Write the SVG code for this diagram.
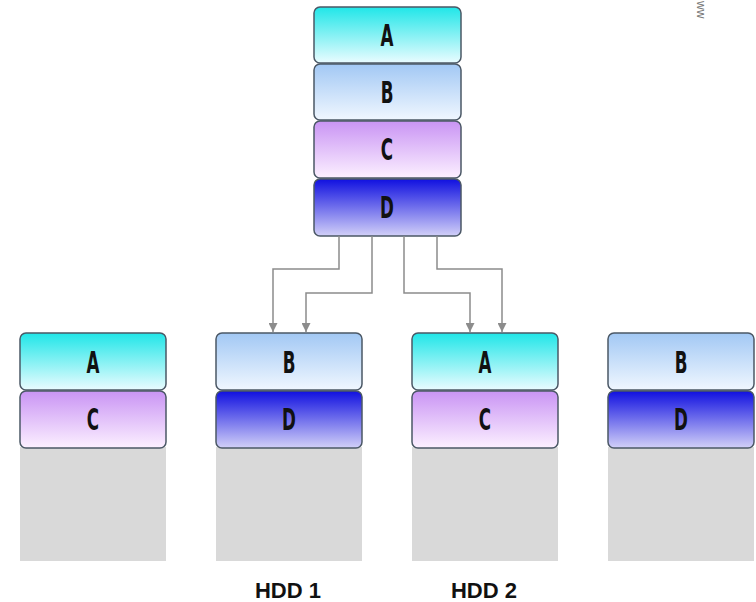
<svg xmlns="http://www.w3.org/2000/svg" width="756" height="602" viewBox="0 0 756 602">
<defs>
<linearGradient id="gA" x1="0" y1="0" x2="0" y2="1"><stop offset="0" stop-color="#20e6e8"/><stop offset="1" stop-color="#eafcff"/></linearGradient>
<linearGradient id="gB" x1="0" y1="0" x2="0" y2="1"><stop offset="0" stop-color="#a2c8f4"/><stop offset="1" stop-color="#f0f7ff"/></linearGradient>
<linearGradient id="gC" x1="0" y1="0" x2="0" y2="1"><stop offset="0" stop-color="#c994f4"/><stop offset="1" stop-color="#fcf0ff"/></linearGradient>
<linearGradient id="gD" x1="0" y1="0" x2="0" y2="1"><stop offset="0" stop-color="#1010e0"/><stop offset="1" stop-color="#d2d0f8"/></linearGradient>
<marker id="arr" viewBox="0 0 10 10" refX="10" refY="5" markerWidth="9" markerHeight="9" markerUnits="userSpaceOnUse" orient="auto">
<path d="M0,0 L10,5 L0,10 Z" fill="#8c8c8c"/>
</marker>
</defs>
<style>
.box{stroke:#4b5866;stroke-width:1.5}
.gray{fill:#d9d9d9}
.lbl{font-family:"DejaVu Sans Condensed","DejaVu Sans",sans-serif;font-weight:bold;font-size:30px;fill:#111;text-anchor:middle}
.hdd{font-family:"Liberation Sans",Arial,sans-serif;font-weight:bold;font-size:22px;fill:#111;text-anchor:middle}
.con{fill:none;stroke:#8c8c8c;stroke-width:1.5;marker-end:url(#arr)}
</style>
<rect width="756" height="602" fill="#ffffff"/>

<g id="top-stack">
<rect class="box" x="314" y="7" width="147" height="56" rx="6" fill="url(#gA)"/>
<rect class="box" x="314" y="64" width="147" height="56" rx="6" fill="url(#gB)"/>
<rect class="box" x="314" y="121" width="147" height="57" rx="6" fill="url(#gC)"/>
<rect class="box" x="314" y="179" width="147" height="57" rx="6" fill="url(#gD)"/>
<text class="lbl" transform="translate(387,46) scale(0.62,1)">A</text>
<text class="lbl" transform="translate(387,103) scale(0.62,1)">B</text>
<text class="lbl" transform="translate(387,160) scale(0.62,1)">C</text>
<text class="lbl" transform="translate(387,218) scale(0.62,1)">D</text>
</g>

<g id="connectors">
<path class="con" d="M339,236 V269 H273 V332"/>
<path class="con" d="M372,236 V293 H306 V332"/>
<path class="con" d="M404,236 V293 H470 V332"/>
<path class="con" d="M437,236 V269 H502 V332"/>
</g>

<g id="disk1">
<rect class="gray" x="20" y="447" width="146" height="114"/>
<rect class="box" x="20" y="333" width="146" height="57" rx="6" fill="url(#gA)"/>
<rect class="box" x="20" y="391" width="146" height="57" rx="6" fill="url(#gC)"/>
<text class="lbl" transform="translate(93,373) scale(0.62,1)">A</text>
<text class="lbl" transform="translate(93,430) scale(0.62,1)">C</text>
</g>

<g id="disk2">
<rect class="gray" x="216" y="447" width="146" height="114"/>
<rect class="box" x="216" y="333" width="146" height="57" rx="6" fill="url(#gB)"/>
<rect class="box" x="216" y="391" width="146" height="57" rx="6" fill="url(#gD)"/>
<text class="lbl" transform="translate(289,373) scale(0.62,1)">B</text>
<text class="lbl" transform="translate(289,430) scale(0.62,1)">D</text>
<text class="hdd" x="288" y="598">HDD 1</text>
</g>

<g id="disk3">
<rect class="gray" x="412" y="447" width="146" height="114"/>
<rect class="box" x="412" y="333" width="146" height="57" rx="6" fill="url(#gA)"/>
<rect class="box" x="412" y="391" width="146" height="57" rx="6" fill="url(#gC)"/>
<text class="lbl" transform="translate(485,373) scale(0.62,1)">A</text>
<text class="lbl" transform="translate(485,430) scale(0.62,1)">C</text>
<text class="hdd" x="484" y="598">HDD 2</text>
</g>

<g id="disk4">
<rect class="gray" x="608" y="447" width="146" height="114"/>
<rect class="box" x="608" y="333" width="146" height="57" rx="6" fill="url(#gB)"/>
<rect class="box" x="608" y="391" width="146" height="57" rx="6" fill="url(#gD)"/>
<text class="lbl" transform="translate(681,373) scale(0.62,1)">B</text>
<text class="lbl" transform="translate(681,430) scale(0.62,1)">D</text>
</g>

<text transform="translate(697,1) rotate(90)" font-family="Liberation Sans,Arial,sans-serif" font-size="12" fill="#777">ww</text>
</svg>
